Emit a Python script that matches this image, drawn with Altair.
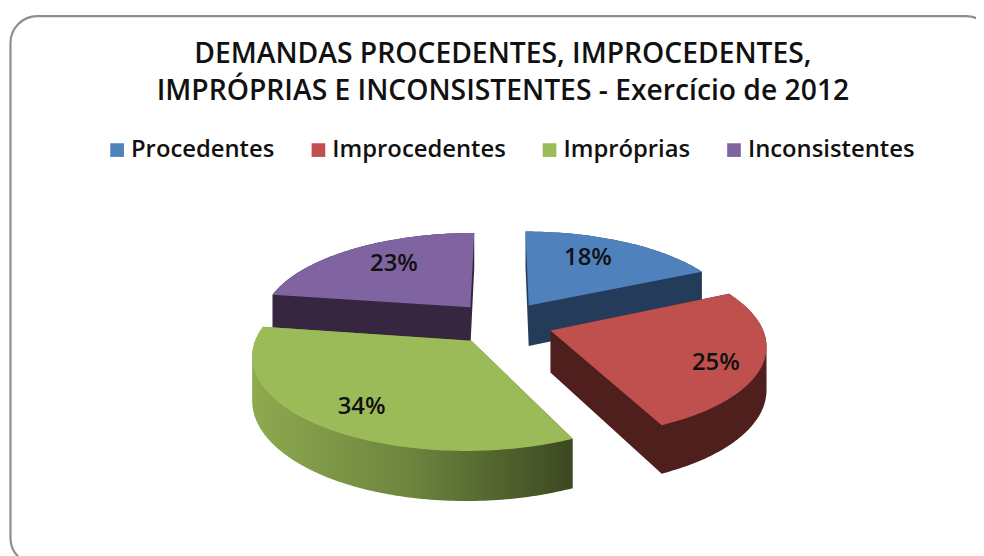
import math
import altair as alt

CATEGORIES = ["Procedentes", "Improcedentes", "Impróprias", "Inconsistentes"]
SHARES = [18, 25, 34.4, 22.6]
TOP_COLORS = ["#4f81bd", "#c0504d", "#9bbb59", "#8064a2"]
SIDE_COLORS = ["#243c5a", "#4f1f1d", None, "#36263f"]
LABEL_RADII = [0.72, 0.80, 0.77, 0.705]
LABEL_ANGLES = [27, 114, 215.6, 324]
DRAW_ORDER = [3, 0, 1, 2]

PAD_TOP = 130
CX, CY = 498.5, 185.4
R, KR, P, EXPLODE, DEPTH = 212, 89.8, 0.142, 0.24, 42


def project(u, v, drop=0.0):
    s = 1 / (1 + P * v)
    return [R * s * u, -KR * s * v + drop * s]


def bounds():
    out, a = [], 0.0
    for share in SHARES:
        out.append((a, a + share * 3.6))
        a += share * 3.6
    return out


def outline(i, drop=0.0):
    a0, a1 = bounds()[i]
    mid = math.radians((a0 + a1) / 2)
    ou, ov = EXPLODE * math.sin(mid), EXPLODE * math.cos(mid)
    pts = [project(ou, ov, drop)]
    n = max(8, int(a1 - a0))
    for k in range(n + 1):
        t = math.radians(a0 + (a1 - a0) * k / n)
        pts.append(project(ou + math.sin(t), ov + math.cos(t), drop))
    pts.append(pts[0])
    return pts


def oriented(ring):
    area = sum(a[0] * b[1] - b[0] * a[1] for a, b in zip(ring, ring[1:]))
    return ring if area > 0 else ring[::-1]


def top_feature(i):
    return {"type": "Feature", "properties": {"name": CATEGORIES[i]},
            "geometry": {"type": "Polygon", "coordinates": [outline(i)]}}


def side_feature(i):
    up, lo = outline(i), outline(i, DEPTH)
    polys = [[oriented(lo)]]
    for k in range(len(up) - 1):
        polys.append([oriented([up[k], up[k + 1], lo[k + 1], lo[k], up[k]])])
    return {"type": "Feature", "properties": {"name": CATEGORIES[i]},
            "geometry": {"type": "MultiPolygon", "coordinates": polys}}


PROJ = dict(type="identity", scale=1, translate=[CX, CY])
color = alt.Color(
    "properties.name:N",
    scale=alt.Scale(domain=CATEGORIES, range=TOP_COLORS),
    legend=alt.Legend(
        title=None, orient="none", direction="horizontal", legendX=98, legendY=-1,
        symbolType="square", symbolSize=190, symbolStrokeWidth=0, labelOffset=2,
        labelFont="Open Sans", labelFontWeight=600, labelFontSize=24, labelColor="#111111",
        labelLimit=400, columnPadding=32, padding=0, values=CATEGORIES, symbolOpacity=1,
    ),
)
GREEN_SIDE = {
    "gradient": "linear", "x1": 0, "x2": 1, "y1": 0, "y2": 0,
    "stops": [{"offset": 0, "color": "#8ea94f"},
              {"offset": 0.5, "color": "#6c843e"},
              {"offset": 1, "color": "#3c4820"}],
}

frame = alt.Chart(alt.Data(values=[{"a": 1}])).mark_rect(
    fill="white", stroke="#8e8e8e", strokeWidth=2.2, cornerRadius=27
).encode(
    x=alt.value(2.5), x2=alt.value(993), y=alt.value(6 - PAD_TOP), y2=alt.value(429),
)

layers = [frame]
for i in DRAW_ORDER:
    fill = SIDE_COLORS[i] if SIDE_COLORS[i] else GREEN_SIDE
    layers.append(
        alt.Chart(alt.Data(values=[side_feature(i)])).mark_geoshape(strokeWidth=0)
        .encode(fill=alt.value(fill), stroke=alt.value(None), detail="properties.name:N").project(**PROJ)
    )
    layers.append(alt.Chart(alt.Data(values=[top_feature(i)])).mark_geoshape(strokeWidth=0).encode(color=color).project(**PROJ))

rows = []
for i, name in enumerate(CATEGORIES):
    a0, a1 = bounds()[i]
    mid = math.radians((a0 + a1) / 2)
    lab = math.radians(LABEL_ANGLES[i])
    u = EXPLODE * math.sin(mid) + LABEL_RADII[i] * math.sin(lab)
    v = EXPLODE * math.cos(mid) + LABEL_RADII[i] * math.cos(lab)
    px, py = project(u, v)
    rows.append({"lon": px, "lat": py, "label": f"{round(SHARES[i])}%"})

labels = alt.Chart(alt.Data(values=rows)).mark_text(
    font="Open Sans", fontWeight=600, fontSize=24, color="#111111", baseline="middle", align="center", dy=2
).encode(
    longitude="lon:Q", latitude="lat:Q", text="label:N"
).project(**PROJ)
layers.append(labels)

chart = alt.layer(*layers).properties(
    width=976, height=548 - PAD_TOP,
    padding={"left": 0, "top": PAD_TOP, "right": 0, "bottom": 0},
    autosize=alt.AutoSizeParams(type="none"),
    title=alt.TitleParams(
        text=["DEMANDAS PROCEDENTES, IMPROCEDENTES,", "IMPRÓPRIAS E INCONSISTENTES - Exercício de 2012"],
        font="Open Sans", fontWeight=600, fontSize=28.5, lineHeight=37, color="#111111",
        anchor="middle", dx=11, offset=-114, baseline="alphabetic",
    ),
).configure_view(stroke=None)

chart.save("out.html", embed_options={"renderer": "svg", "actions": False})
